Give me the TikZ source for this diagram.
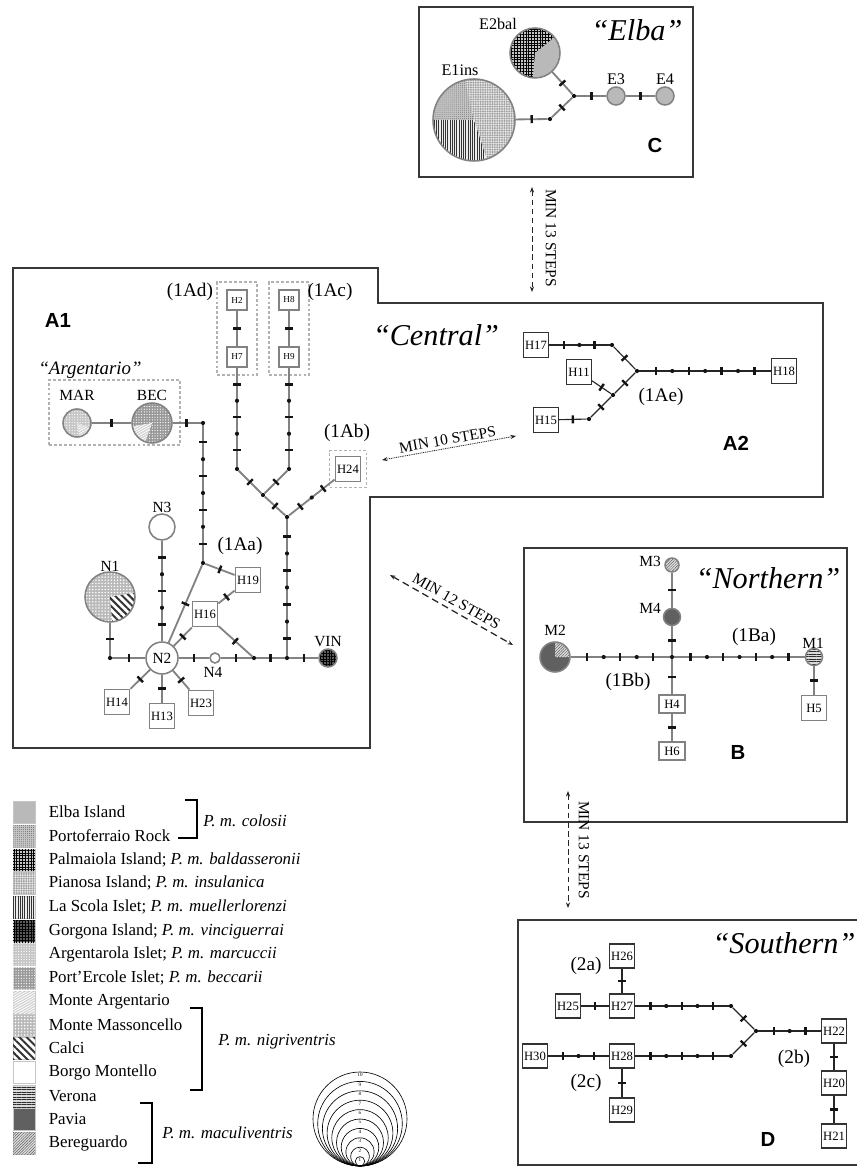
\documentclass[tikz,border=0pt]{standalone}
\usepackage{fontspec}
\setmainfont{Liberation Serif}
\setsansfont{Liberation Sans}
\usepackage{tikz}
\usetikzlibrary{arrows.meta, positioning, fit, patterns.meta, decorations.markings}
\newcommand{\upx}{0.025cm}
\definecolor{frm}{RGB}{55,55,55}
\definecolor{netgray}{RGB}{130,130,130}
\definecolor{mk}{RGB}{20,20,20}
\tikzset{
  frame/.style={draw=frm, line width=1.3pt},
  ln/.style={draw=netgray, line width=1.3pt},
  lnk/.style={draw=black!85, line width=0.8pt},
  tk/.style={postaction={decorate, decoration={markings,
    mark=at position #1 with {\fill[mk] (-0.03cm,-0.1cm) rectangle (0.03cm,0.1cm);}}}},
  tk/.default=0.5,
  dts/.style={postaction={decorate, decoration={markings,
    mark=at position #1 with {\fill[mk] (0,0) circle[radius=0.052cm];}}}},
  mut3/.style={tk=0.25, dts=0.5, tk=0.75},
  mut5/.style={tk=0.167, dts=0.333, tk=0.5, dts=0.667, tk=0.833},
  mut7/.style={tk=0.125, dts=0.25, tk=0.375, dts=0.5, tk=0.625, dts=0.75, tk=0.875},
  dt/.style={circle, fill=mk, inner sep=0pt, minimum size=4.2*\upx},
  hbox/.style={rectangle, draw=netgray, line width=1.3pt, fill=white, inner sep=0pt,
    minimum width=25*\upx, minimum height=25*\upx, font=\fontsize{9}{10}\selectfont},
  sbox/.style={hbox, minimum width=20*\upx, minimum height=20*\upx, font=\fontsize{6.5}{7}\selectfont},
  kbox/.style={hbox, draw=black!80, line width=0.8pt, minimum height=25*\upx},
  hap/.style={circle, draw=netgray, line width=1.1pt, inner sep=0pt, fill=white,
    font=\fontsize{11}{12}\selectfont},
  grp/.style={draw=gray!60, line width=1pt, dash pattern=on 2pt off 1.5pt, inner sep=0pt},
  gap/.style={{Stealth[length=4pt, width=3pt]}-{Stealth[length=4pt, width=3pt]}, line width=0.6pt, draw=black!85},
  ttl/.style={font=\fontsize{21.5}{24}\selectfont\itshape},
  lbl/.style={font=\fontsize{14.5}{16}\selectfont\sffamily\bfseries},
  grl/.style={font=\fontsize{13.7}{15}\selectfont},
  nl/.style={font=\fontsize{11}{12}\selectfont},
  el/.style={font=\fontsize{11.5}{12}\selectfont},
  stp/.style={font=\fontsize{11}{12}\selectfont, inner sep=1pt},
  sw/.style={rectangle, draw=gray!45, line width=0.5pt, inner sep=0pt, minimum width=22*\upx, minimum height=22*\upx},
  lgt/.style={inner sep=0pt, font=\fontsize{12}{14}\selectfont},
  lgi/.style={inner sep=0pt, anchor=west, font=\fontsize{12}{14}\selectfont\itshape},
  brk/.style={draw=black, line width=1.2pt},
  % fills for the localities
  elbaF/.style={fill=gray!55},
  ferrF/.style={fill=gray!45, postaction={pattern={Dots[radius=0.35pt, distance=1.4pt]}, pattern color=gray!85!black}},
  palmF/.style={fill=gray!45, postaction={pattern={Hatch[distance=2pt, line width=0.6pt]}, pattern color=black}},
  pianF/.style={fill=gray!20, postaction={pattern={Dots[radius=0.75pt, distance=1.7pt]}, pattern color=gray!75}},
  scolaF/.style={fill=gray!15, postaction={pattern={Lines[angle=90, distance=1.6pt, line width=0.55pt]}, pattern color=black!80}},
  gorgF/.style={fill=gray!70!black, postaction={pattern={Hatch[distance=2pt, line width=0.6pt]}, pattern color=black}},
  argF/.style={fill=gray!45, postaction={pattern={Dots[radius=0.45pt, distance=1.9pt]}, pattern color=white}},
  percF/.style={fill=gray!80, postaction={pattern={Dots[radius=0.45pt, distance=1.9pt]}, pattern color=white}},
  montF/.style={fill=gray!35, postaction={pattern={Lines[angle=30, distance=1.6pt, line width=0.6pt]}, pattern color=white}},
  massF/.style={fill=gray!55, postaction={pattern={Dots[radius=0.6pt, distance=2.2pt]}, pattern color=white}},
  calciF/.style={fill=white, postaction={pattern={Lines[angle=-45, distance=3.6pt, line width=1.4pt]}, pattern color=black!80}},
  borgoF/.style={fill=white},
  veronaF/.style={fill=gray!30, postaction={pattern={Lines[angle=0, distance=1.8pt, line width=0.6pt]}, pattern color=gray!35!black}},
  paviaF/.style={fill=gray!75!black},
  bereF/.style={fill=gray!25, postaction={pattern={Lines[angle=45, distance=1.4pt, line width=0.35pt]}, pattern color=gray!70!black}},
  pfill/.style={path picture={\fill[#1] (path picture bounding box.south west) rectangle (path picture bounding box.north east);}},
  pie/.style n args={4}{path picture={
    \fill[#1] (path picture bounding box.south west) rectangle (path picture bounding box.north east);
    \fill[#2] (path picture bounding box.center) -- ++(#3:60) arc[start angle=#3, end angle=#4, radius=60] -- cycle;}}
}

\begin{document}
\begin{tikzpicture}[x=\upx, y=-\upx]
  \useasboundingbox (0,0) rectangle (856,1168);

  % frames
  \draw[frame] (419,7) rectangle (693,177);
  \draw[frame] (13,268) -- (378,268) -- (378,303) -- (823,303) -- (823,497) -- (370,497) -- (370,748) -- (13,748) -- cycle;
  \draw[frame] (524,548) rectangle (847,822);
  \draw[frame] (518,920) rectangle (862,1165);

  % C : Elba
  \node[ttl] (tElba) at (637,30) {``Elba''};
  \node[lbl] (lC) at (655,145) {C};
  \node[hap, minimum size=82*\upx, path picture={
    \fill[pianF] (path picture bounding box.south west) rectangle (path picture bounding box.north east);
    \fill[ferrF] (path picture bounding box.center) -- ++(-103:60) arc[start angle=-103, end angle=-180, radius=60] -- cycle;
    \fill[scolaF] (path picture bounding box.center) -- ++(-180:60) arc[start angle=-180, end angle=-288, radius=60] -- cycle;
  }] (E1ins) at (474,120) {};
  \node[hap, minimum size=50*\upx, pie={palmF}{elbaF}{95}{-39}] (E2bal) at (535,53) {};
  \node[hap, minimum size=18*\upx, pfill=elbaF] (E3) at (616,96) {};
  \node[hap, minimum size=18*\upx, pfill=elbaF] (E4) at (665,96) {};
  \node[dt] (ev) at (550,119) {};
  \node[dt] (ej) at (574,96) {};
  \node[el] (lE1) at (460,70) {E1ins};
  \node[el] (lE2) at (498,24) {E2bal};
  \node[el] (lE3) at (616,79) {E3};
  \node[el] (lE4) at (665,79) {E4};
  \draw[ln, tk] (E1ins) -- (ev);
  \draw[ln, tk] (ev) -- (ej);
  \draw[ln, tk] (E2bal) -- (ej);
  \draw[ln, tk] (ej) -- (E3);
  \draw[ln, tk] (E3) -- (E4);

  % A1 : Central
  \node[ttl] (tCentral) at (436,335) {``Central''};
  \node[lbl] (lA1) at (58,320) {A1};
  \node[font=\fontsize{13.4}{15}\selectfont\itshape] (tArg) at (90,370) {``Argentario''};
  \node[sbox] (H2) at (237,300) {H2};
  \node[sbox] (H7) at (237,357) {H7};
  \node[sbox] (H8) at (289,300) {H8};
  \node[sbox] (H9) at (289,357) {H9};
  \node[grp, fit=(H2)(H7), inner xsep=9*\upx, inner ysep=7*\upx] (g1Ad) {};
  \node[grp, fit=(H8)(H9), inner xsep=9*\upx, inner ysep=7*\upx] (g1Ac) {};
  \node[grl] (l1Ad) at (190,292) {(1Ad)};
  \node[grl] (l1Ac) at (330,292) {(1Ac)};
  \node[dt] (bl) at (237,469) {};
  \node[dt] (br) at (289,469) {};
  \node[dt] (mg) at (263,495) {};
  \node[dt] (jn) at (287,517) {};
  \node[hbox] (H24) at (348,469) {H24};
  \node[grp, fit=(H24), inner sep=5*\upx] (g1Ab) {};
  \node[grl] (l1Ab) at (347,433) {(1Ab)};
  \node[grp, minimum width=131*\upx, minimum height=65*\upx] (gArg) at (114.5,412.5) {};
  \node[hap, minimum size=28*\upx, pie={argF}{montF}{80}{20}] (MAR) at (77,423) {};
  \node[hap, minimum size=40*\upx, pie={percF}{montF}{170}{110}] (BEC) at (152,423) {};
  \node[nl] (lMAR) at (77,395) {MAR};
  \node[nl] (lBEC) at (152,395) {BEC};
  \node[dt] (ca) at (203,423) {};
  \node[dt] (ja) at (203,563) {};
  \node[hap, minimum size=32*\upx] (N2) at (162,658) {N2};
  \node[hap, minimum size=10*\upx] (N4) at (215,658) {};
  \node[dt] (jh) at (254,658) {};
  \node[dt] (jv) at (287,658) {};
  \node[hap, minimum size=18*\upx, pfill=gorgF] (VIN) at (328,658) {};
  \node[dt] (cl) at (110,658) {};
  \node[hap, minimum size=50*\upx, pie={massF}{calciF}{85}{-10}] (N1) at (110,597) {};
  \node[hap, minimum size=26*\upx] (N3) at (162,527) {};
  \node[nl] (lN1) at (110,566) {N1};
  \node[nl] (lN3) at (162,507) {N3};
  \node[nl] (lN4) at (213,672) {N4};
  \node[nl] (lVIN) at (328,642) {VIN};
  \node[grl] (l1Aa) at (240,546) {(1Aa)};
  \node[hbox] (H19) at (248,580) {H19};
  \node[hbox] (H16) at (205,614) {H16};
  \node[hbox] (H14) at (117,702) {H14};
  \node[hbox] (H13) at (162,716) {H13};
  \node[hbox] (H23) at (201,703) {H23};

  \draw[ln, tk] (H2) -- (H7);
  \draw[ln, tk] (H8) -- (H9);
  \draw[ln, mut5] (H7) -- (bl);
  \draw[ln, mut5] (H9) -- (br);
  \draw[ln, tk] (bl) -- (mg);
  \draw[ln, tk] (br) -- (mg);
  \draw[ln, tk] (mg) -- (jn);
  \draw[ln, mut3] (H24) -- (jn);
  \draw[ln, mut7] (jn) -- (jv);
  \draw[ln, tk] (MAR) -- (BEC);
  \draw[ln, tk] (BEC) -- (ca);
  \draw[ln, mut7] (ca) -- (ja);
  \draw[ln, tk] (ja) -- (H19);
  \draw[ln, tk] (ja) -- (N2);
  \draw[ln, tk] (H19) -- (H16);
  \draw[ln, tk] (H16) -- (N2);
  \draw[ln, tk] (H16) -- (jh);
  \draw[ln, tk] (N2) -- (N4);
  \draw[ln, tk] (N4) -- (jh);
  \draw[ln, tk] (jh) -- (jv);
  \draw[ln, tk] (jv) -- (VIN);
  \draw[ln, tk] (N2) -- (cl);
  \draw[ln, tk] (cl) -- (N1);
  \draw[ln, mut5] (N3) -- (N2);
  \draw[ln, tk] (N2) -- (H14);
  \draw[ln, tk] (N2) -- (H13);
  \draw[ln, tk] (N2) -- (H23);

  % A2
  \node[lbl] (lA2) at (736,443) {A2};
  \node[kbox] (H17) at (536,345) {H17};
  \node[kbox] (H11) at (579,372) {H11};
  \node[kbox] (H15) at (546,420) {H15};
  \node[kbox] (H18) at (784,371) {H18};
  \node[dt] (a2b) at (612,345) {};
  \node[dt] (a2j) at (637,371) {};
  \node[dt] (a2k) at (613,395) {};
  \node[dt] (a2m) at (589,419) {};
  \node[grl] (l1Ae) at (661,397) {(1Ae)};
  \draw[lnk, mut3] (H17) -- (a2b);
  \draw[lnk, tk] (a2b) -- (a2j);
  \draw[lnk, mut7] (a2j) -- (H18);
  \draw[lnk, tk] (H11) -- (a2k);
  \draw[lnk, tk] (a2k) -- (a2j);
  \draw[lnk, tk] (a2k) -- (a2m);
  \draw[lnk, tk] (a2m) -- (H15);

  % B : Northern
  \node[ttl] (tNorthern) at (768,578) {``Northern''};
  \node[lbl] (lB) at (738,752) {B};
  \node[hap, minimum size=14*\upx, pfill=bereF] (M3) at (672,565) {};
  \node[hap, minimum size=17*\upx, pfill=paviaF] (M4) at (672,617) {};
  \node[dt] (xb) at (672,657) {};
  \node[hap, minimum size=30*\upx, pie={paviaF}{bereF}{0}{-90}] (M2) at (555,657) {};
  \node[hap, minimum size=17*\upx, pfill=veronaF] (M1) at (814,657) {};
  \node[hbox, minimum width=26*\upx, minimum height=18*\upx] (H4) at (672,704) {H4};
  \node[hbox, minimum width=26*\upx, minimum height=18*\upx] (H6) at (672,751) {H6};
  \node[hbox] (H5) at (814,708) {H5};
  \node[nl] (lM3) at (650,561) {M3};
  \node[nl] (lM4) at (650,608) {M4};
  \node[nl] (lM2) at (555,630) {M2};
  \node[nl] (lM1) at (813,643) {M1};
  \node[grl] (l1Ba) at (754,637) {(1Ba)};
  \node[grl] (l1Bb) at (628,682) {(1Bb)};
  \draw[ln, tk] (M3) -- (M4);
  \draw[ln, tk] (M4) -- (xb);
  \draw[ln, mut5] (M2) -- (xb);
  \draw[ln, mut7] (xb) -- (M1);
  \draw[ln, tk] (xb) -- (H4);
  \draw[ln, tk] (H4) -- (H6);
  \draw[ln, tk] (M1) -- (H5);

  % D : Southern
  \node[ttl] (tSouthern) at (784,943) {``Southern''};
  \node[lbl] (lD) at (768,1139) {D};
  \node[kbox, minimum height=24*\upx] (H26) at (622,956) {H26};
  \node[kbox, minimum height=24*\upx] (H27) at (622,1006) {H27};
  \node[kbox, minimum height=24*\upx] (H25) at (568,1006) {H25};
  \node[kbox, minimum height=24*\upx] (H30) at (535,1056) {H30};
  \node[kbox, minimum height=24*\upx] (H28) at (622,1056) {H28};
  \node[kbox, minimum height=24*\upx] (H29) at (622,1110) {H29};
  \node[kbox, minimum height=24*\upx] (H22) at (834,1031) {H22};
  \node[kbox, minimum height=24*\upx] (H20) at (834,1083) {H20};
  \node[kbox, minimum height=24*\upx] (H21) at (834,1136) {H21};
  \node[dt] (dbu) at (731,1006) {};
  \node[dt] (dbl) at (731,1056) {};
  \node[dt] (dj) at (756,1031) {};
  \node[grl] (l2a) at (586,966) {(2a)};
  \node[grl] (l2b) at (794,1059) {(2b)};
  \node[grl] (l2c) at (586,1083) {(2c)};
  \draw[lnk, tk] (H26) -- (H27);
  \draw[lnk, tk] (H25) -- (H27);
  \draw[lnk, mut5] (H27) -- (dbu);
  \draw[lnk, tk] (dbu) -- (dj);
  \draw[lnk, mut5] (H28) -- (dbl);
  \draw[lnk, tk] (dbl) -- (dj);
  \draw[lnk, mut3] (dj) -- (H22);
  \draw[lnk, mut3] (H30) -- (H28);
  \draw[lnk, tk] (H28) -- (H29);
  \draw[lnk, tk] (H22) -- (H20);
  \draw[lnk, tk] (H20) -- (H21);

  % distances between groups
  \coordinate (s13a) at (532,187);
  \coordinate (s13b) at (532,292);
  \draw[gap, dash pattern=on 4pt off 2.5pt] (s13a) -- (s13b);
  \node[stp, rotate=-90] (t13a) at (551,238) {MIN 13 STEPS};
  \coordinate (s10a) at (382,460);
  \coordinate (s10b) at (516,436);
  \draw[gap, dash pattern=on 0.7pt off 0.6pt] (s10a) -- node[stp, sloped, above=1pt] (t10) {MIN 10 STEPS} (s10b);
  \coordinate (s12a) at (390,575);
  \coordinate (s12b) at (513,645);
  \draw[gap, line width=0.9pt, dash pattern=on 5pt off 3pt] (s12a) -- node[stp, sloped, above=2pt] (t12) {MIN 12 STEPS} (s12b);
  \coordinate (s13c) at (568,791);
  \coordinate (s13d) at (568,908);
  \draw[gap, dash pattern=on 4pt off 2.5pt] (s13c) -- (s13d);
  \node[stp, rotate=-90] (t13b) at (584,850) {MIN 13 STEPS};

  % legend
  \node[sw, elbaF] (sw1) at (24,812) {};
  \node[sw, ferrF] (sw2) at (24,836) {};
  \node[sw, palmF] (sw3) at (24,860) {};
  \node[sw, pianF] (sw4) at (24,883) {};
  \node[sw, scolaF] (sw5) at (24,907) {};
  \node[sw, gorgF] (sw6) at (24,931) {};
  \node[sw, argF] (sw7) at (24,954) {};
  \node[sw, percF] (sw8) at (24,978) {};
  \node[sw, montF] (sw9) at (24,1002) {};
  \node[sw, massF] (sw10) at (24,1025) {};
  \node[sw, calciF] (sw11) at (24,1048) {};
  \node[sw, borgoF] (sw12) at (24,1072) {};
  \node[sw, veronaF] (sw13) at (24,1096) {};
  \node[sw, paviaF] (sw14) at (24,1119) {};
  \node[sw, bereF] (sw15) at (24,1143) {};
  \node[lgt, right=0.33cm of sw1] (lg1) {Elba Island};
  \node[lgt, right=0.33cm of sw2] (lg2) {Portoferraio Rock};
  \node[lgt, right=0.33cm of sw3] (lg3) {Palmaiola Island; \textit{P. m. baldasseronii}};
  \node[lgt, right=0.33cm of sw4] (lg4) {Pianosa Island; \textit{P. m. insulanica}};
  \node[lgt, right=0.33cm of sw5] (lg5) {La Scola Islet; \textit{P. m. muellerlorenzi}};
  \node[lgt, right=0.33cm of sw6] (lg6) {Gorgona Island; \textit{P. m. vinciguerrai}};
  \node[lgt, right=0.33cm of sw7] (lg7) {Argentarola Islet; \textit{P. m. marcuccii}};
  \node[lgt, right=0.33cm of sw8] (lg8) {Port'Ercole Islet; \textit{P. m. beccarii}};
  \node[lgt, right=0.33cm of sw9] (lg9) {Monte Argentario};
  \node[lgt, right=0.33cm of sw10] (lg10) {Monte Massoncello};
  \node[lgt, right=0.33cm of sw11] (lg11) {Calci};
  \node[lgt, right=0.33cm of sw12] (lg12) {Borgo Montello};
  \node[lgt, right=0.33cm of sw13] (lg13) {Verona};
  \node[lgt, right=0.33cm of sw14] (lg14) {Pavia};
  \node[lgt, right=0.33cm of sw15] (lg15) {Bereguardo};
  \draw[brk] (185,800) -- (197,800) -- (197,838) -- (178,838);
  \node[lgi] (tcol) at (203,821) {P. m. colosii};
  \draw[brk] (190,1008) -- (202,1008) -- (202,1090) -- (190,1090);
  \node[lgi] (tnig) at (218,1042) {P. m. nigriventris};
  \draw[brk] (140,1103) -- (152,1103) -- (152,1163) -- (138,1163);
  \node[lgi] (tmac) at (162,1133) {P. m. maculiventris};

  % size scale
  \foreach \k in {1,...,10}{
    \draw[line width=0.45pt] (360,{1166-4.7*\k}) circle[radius=4.7*\k];
    \node[inner sep=0pt, font=\fontsize{3.6}{4}\selectfont] (sc\k) at (360,{1166-9.4*\k+3.2}) {\k};
  }
\end{tikzpicture}
\end{document}
